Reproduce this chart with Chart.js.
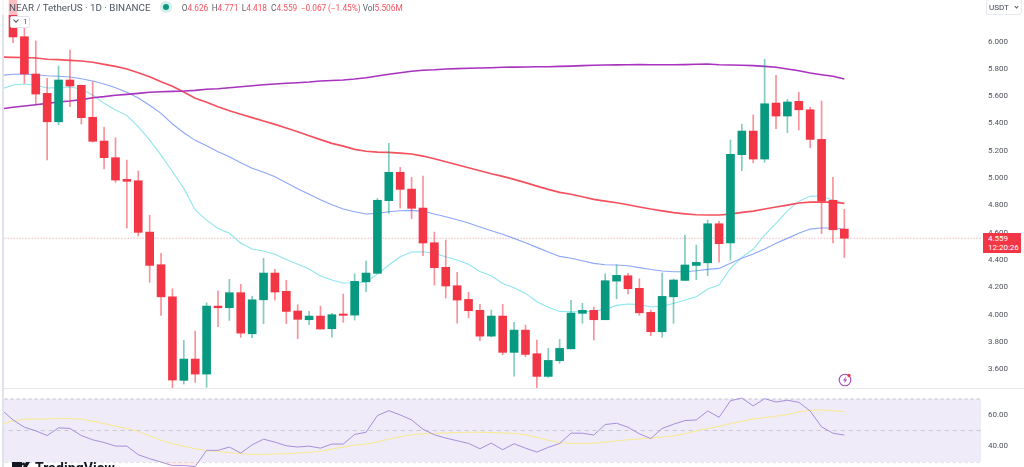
<!DOCTYPE html>
<html><head><meta charset="utf-8">
<script src="https://cdn.jsdelivr.net/npm/chart.js@4"></script>
<style>
html,body{margin:0;padding:0;background:#fff;width:1024px;height:467px;overflow:hidden;font-family:Roboto,sans-serif}
canvas{position:absolute;left:0}
.abs{position:absolute;white-space:nowrap}
.lab{color:#5d606b}.val{color:#f7525f}
.ohlc{top:1px;font-size:8.3px;line-height:14px}
</style></head><body>
<div class="abs" style="left:2px;top:0;width:1.5px;height:467px;background:#e0e3eb"></div>
<canvas id="price" width="1024" height="388" style="top:0"></canvas>
<div class="abs" style="left:2px;top:388px;width:1022px;height:1px;background:#e4e6ec"></div>
<canvas id="rsi" width="1024" height="78" style="top:389px"></canvas>

<div class="abs" style="left:0;top:0;width:400px;height:15px;background:rgba(255,255,255,.68)"></div>
<div class="abs" style="left:9px;top:1px;font-size:9.8px;line-height:14px;color:#4c525e;">NEAR / TetherUS · 1D · BINANCE</div>
<div class="abs" style="left:159.5px;top:1px;width:12px;height:12px;border-radius:50%;background:#d5eee9"></div>
<div class="abs" style="left:162.5px;top:4px;width:6px;height:6px;border-radius:50%;background:#089981"></div>
<div class="abs ohlc" style="left:181.7px"><span class="lab">O</span><span class="val">4.626</span></div>
<div class="abs ohlc" style="left:211.7px"><span class="lab">H</span><span class="val">4.771</span></div>
<div class="abs ohlc" style="left:241.7px"><span class="lab">L</span><span class="val">4.418</span></div>
<div class="abs ohlc" style="left:271px"><span class="lab">C</span><span class="val">4.559</span></div>
<div class="abs ohlc val" style="left:300.7px">−0.067</div>
<div class="abs ohlc val" style="left:328px">(−1.45%)</div>
<div class="abs ohlc" style="left:362.7px"><span class="lab">Vol</span><span class="val">5.506M</span></div>

<div class="abs" style="left:10px;top:16px;width:20px;height:12px;background:#fff;border:1px solid #e0e3eb;border-radius:2px;box-sizing:border-box;font-size:8px;line-height:10px;color:#4c525e"><span style="position:absolute;left:3px;top:1px;width:3px;height:3px;border-right:1px solid #4c525e;border-bottom:1px solid #4c525e;transform:rotate(45deg)"></span><span style="position:absolute;left:12px;top:0">1</span></div>

<div class="abs" style="left:986px;top:-1px;width:36px;height:16px;background:#fff;border:1px solid #e8eaf0;border-radius:2px;box-sizing:border-box;font-size:8px;line-height:15px;color:#3a3f4b"><span style="position:absolute;left:2px;top:0">USDT</span><span style="position:absolute;left:28px;top:5px;width:2px;height:2px;border-right:1px solid #4c525e;border-bottom:1px solid #4c525e;transform:rotate(45deg)"></span></div>

<div class="abs" style="left:983px;top:233px;width:38px;height:20px;background:#f23645;color:#fff;font-size:8px;line-height:9px;padding:1px 0 0 5px;box-sizing:border-box">4.559<br>12:20:26</div>

<svg class="abs" style="left:837px;top:372px" width="17" height="16" viewBox="0 0 17 16"><circle cx="8" cy="8" r="5.8" fill="none" stroke="#ab47bc" stroke-width="1.1"/><path d="M9 4.6 6 8.4h2l-1 3 3.2-4H8.2z" fill="#ab47bc"/><circle cx="12" cy="3.4" r="1.6" fill="#f23645"/></svg>

<svg class="abs" style="left:11px;top:462px" width="20" height="5" viewBox="0 0 20 5"><rect x="1" y="0" width="10" height="5" fill="#131722"/><circle cx="12.5" cy="2" r="1.6" fill="#131722"/><path d="M15 0h4l-3 5h-4z" fill="#131722"/></svg>
<div class="abs" style="left:35px;top:460px;font-size:14px;line-height:17px;font-weight:700;color:#131722;letter-spacing:.1px">TradingView</div>

<script>
const opens=[6.340,6.035,5.762,5.620,5.412,5.718,5.679,5.445,5.271,5.149,4.990,4.980,4.604,4.365,4.130,3.518,3.674,3.564,4.062,4.050,4.160,3.859,4.108,4.304,4.170,4.026,3.962,3.989,3.896,4.004,3.996,4.240,4.302,4.834,5.042,4.919,4.780,4.526,4.346,4.211,4.111,4.031,3.842,3.989,3.723,3.886,3.713,3.547,3.662,3.749,4.009,4.031,3.962,4.245,4.284,4.192,4.016,3.874,4.130,4.250,4.360,4.379,4.665,4.524,5.171,5.344,5.139,5.549,5.454,5.562,5.500,5.283,4.837,4.626];
const closes=[6.033,5.762,5.615,5.412,5.718,5.674,5.442,5.269,5.149,4.985,4.976,4.602,4.360,4.130,3.520,3.674,3.564,4.062,4.050,4.160,3.864,4.108,4.304,4.165,4.023,3.965,3.989,3.894,3.999,3.994,4.243,4.304,4.837,5.042,4.917,4.778,4.524,4.343,4.209,4.106,4.028,3.842,3.989,3.723,3.886,3.708,3.547,3.664,3.752,4.011,4.031,3.962,4.248,4.287,4.189,4.013,3.874,4.133,4.253,4.363,4.382,4.665,4.519,5.174,5.344,5.139,5.544,5.454,5.557,5.500,5.283,4.831,4.621,4.559];
const highs=[6.377,6.099,6.004,5.730,5.820,5.938,5.682,5.705,5.374,5.295,5.132,5.051,4.727,4.448,4.189,3.811,3.879,4.086,4.172,4.258,4.221,4.133,4.412,4.331,4.251,4.072,4.023,4.062,4.009,4.150,4.299,4.392,4.851,5.254,5.078,5.005,5.015,4.604,4.546,4.309,4.163,4.075,4.033,4.075,3.943,3.923,3.813,3.752,3.818,4.104,4.082,4.055,4.299,4.363,4.302,4.262,4.033,4.304,4.260,4.582,4.509,4.692,4.683,5.278,5.396,5.462,5.870,5.752,5.577,5.628,5.518,5.564,5.005,4.771];
const lows=[5.991,5.694,5.542,5.132,5.390,5.522,5.396,5.264,5.066,4.968,4.634,4.575,4.236,3.994,3.455,3.491,3.503,3.467,3.911,3.957,3.833,3.830,3.933,4.106,3.933,3.823,3.925,3.894,3.835,3.943,3.960,4.165,4.302,4.741,4.780,4.702,4.431,4.216,4.121,3.936,3.977,3.808,3.837,3.706,3.549,3.691,3.464,3.540,3.642,3.749,3.936,3.813,3.962,4.116,4.152,3.994,3.845,3.833,3.936,4.250,4.255,4.284,4.385,4.399,5.053,5.112,5.115,5.361,5.332,5.352,5.222,4.592,4.524,4.418];
// moving averages: first value sits one session before the first candle
const maRed=[5.886,5.884,5.883,5.879,5.870,5.867,5.862,5.857,5.848,5.833,5.818,5.799,5.771,5.742,5.705,5.672,5.630,5.584,5.555,5.522,5.493,5.467,5.442,5.418,5.393,5.366,5.339,5.310,5.281,5.254,5.234,5.210,5.196,5.190,5.188,5.183,5.176,5.161,5.141,5.119,5.097,5.075,5.053,5.031,5.012,4.990,4.966,4.941,4.917,4.895,4.881,4.863,4.844,4.831,4.819,4.804,4.788,4.773,4.760,4.746,4.738,4.731,4.729,4.729,4.736,4.749,4.758,4.773,4.788,4.802,4.817,4.824,4.824,4.824,4.815];
const maBlue=[5.752,5.760,5.762,5.757,5.749,5.745,5.740,5.727,5.711,5.689,5.662,5.628,5.586,5.533,5.474,5.396,5.332,5.276,5.237,5.193,5.156,5.112,5.071,5.042,5.009,4.966,4.922,4.881,4.841,4.804,4.773,4.753,4.736,4.741,4.753,4.760,4.763,4.756,4.736,4.716,4.694,4.670,4.641,4.614,4.588,4.558,4.526,4.492,4.458,4.426,4.412,4.394,4.375,4.365,4.363,4.357,4.344,4.330,4.319,4.314,4.314,4.321,4.331,4.338,4.375,4.412,4.443,4.480,4.522,4.558,4.595,4.626,4.634,4.634,4.624];
const maCyan=[5.652,5.681,5.689,5.679,5.659,5.662,5.667,5.652,5.608,5.547,5.498,5.459,5.376,5.278,5.168,5.046,4.924,4.766,4.692,4.631,4.595,4.522,4.480,4.465,4.441,4.404,4.368,4.333,4.282,4.253,4.231,4.233,4.238,4.297,4.363,4.423,4.458,4.460,4.448,4.423,4.399,4.368,4.316,4.284,4.228,4.196,4.155,4.094,4.053,4.023,4.020,4.020,4.026,4.038,4.067,4.077,4.073,4.055,4.062,4.081,4.106,4.130,4.187,4.216,4.338,4.419,4.480,4.582,4.668,4.760,4.829,4.868,4.866,4.839,4.815];
const maPurple=[5.507,5.518,5.527,5.537,5.547,5.557,5.564,5.574,5.588,5.596,5.606,5.613,5.620,5.628,5.632,5.635,5.637,5.642,5.650,5.654,5.661,5.669,5.676,5.683,5.689,5.694,5.698,5.703,5.711,5.714,5.718,5.725,5.735,5.747,5.760,5.771,5.782,5.789,5.793,5.799,5.801,5.804,5.806,5.808,5.811,5.812,5.813,5.815,5.815,5.818,5.820,5.823,5.826,5.828,5.829,5.830,5.831,5.830,5.830,5.830,5.831,5.833,5.835,5.830,5.828,5.826,5.823,5.818,5.811,5.799,5.786,5.769,5.757,5.745,5.725];
const rsiLine=[63.1,56.7,52.1,49.8,46.8,51.7,51.3,46.8,44.1,42.4,40.1,40.1,34.6,32.1,30.0,27.7,27.7,27.1,37.4,37.4,39.5,35.7,40.9,44.5,42.6,40.3,39.5,40.1,38.8,41.4,41.4,47.5,48.9,59.5,62.6,59.9,56.7,50.8,47.3,45.2,43.5,41.8,38.4,42.0,37.8,41.6,38.8,36.3,39.3,41.8,48.3,48.3,47.1,53.8,54.6,52.1,47.9,44.9,51.3,54.0,56.3,56.7,62.4,58.4,68.9,70.6,65.6,70.2,68.1,69.2,67.9,62.4,52.3,48.3,47.1];
const rsiAvg=[54.0,56.1,57.2,57.2,57.4,57.6,57.6,57.2,55.9,54.4,52.7,51.3,49.4,46.6,43.9,41.6,39.9,38.4,37.4,36.7,35.9,35.3,34.8,34.8,35.1,35.3,35.7,36.1,36.9,38.2,39.5,40.7,41.4,42.8,44.5,46.0,47.3,47.9,48.1,48.5,48.7,48.9,48.9,48.7,48.5,48.1,47.3,45.6,43.7,42.4,41.8,41.8,42.0,42.6,43.5,44.1,44.7,45.2,45.8,46.6,47.9,49.8,51.3,52.7,54.4,55.9,57.2,58.2,59.1,60.1,61.8,62.8,63.1,62.6,62.0];
const priceTicks=[6.0,5.8,5.6,5.4,5.2,5.0,4.8,4.6,4.4,4.2,4.0,3.8,3.6];
const rsiTicks=[60,40];
const lastPrice=[4.559,4.559];
const rsiUpper=[70,70], rsiMiddle=[50,50], rsiLower=[30,30];

const UP='#089981', DOWN='#f23645';
const XMIN=-0.79, XMAX=85.0;
const edge=[XMIN-1,XMAX+1];
const mapts=(a)=>a.map((y,i)=>({x:i-1,y}));
const edges=(a)=>a.map((y,i)=>({x:edge[i],y}));
const isUp=opens.map((o,i)=>closes[i]>=o);
const tickFont={family:'Roboto,sans-serif',size:8};
const commonX={type:'linear',display:false,offset:false,min:XMIN,max:XMAX};
function yAxis(min,max,ticks,dec){
  return {position:'right',min,max,border:{display:false},grid:{display:false,drawTicks:false},
    ticks:{padding:7,color:'#50535e',font:tickFont,autoSkip:false,callback:v=>v.toFixed(dec)},
    afterBuildTicks:s=>{s.ticks=ticks.map(value=>({value}));},
    afterFit:s=>{s.width=43;s.paddingTop=0;s.paddingBottom=0;}};
}
const line=(data,color,width,order,extra)=>Object.assign({type:'line',data,borderColor:color,borderWidth:width,pointRadius:0,tension:0,order,fill:false},extra||{});
const base={responsive:false,animation:false,events:[],layout:{padding:{left:4,right:0,top:0,bottom:0}},
  plugins:{legend:{display:false},tooltip:{enabled:false}}};

new Chart(document.getElementById('price'),{
  data:{datasets:[
    {type:'bar',label:'body',order:0,grouped:false,barThickness:8,borderWidth:0,
      backgroundColor:isUp.map(u=>u?UP:DOWN),
      data:opens.map((o,i)=>({x:i,y:[o,closes[i]]}))},
    {type:'bar',label:'wick',order:1,grouped:false,barThickness:1,borderWidth:0,
      backgroundColor:isUp.map(u=>u?'rgba(8,153,129,.5)':'rgba(242,54,69,.55)'),
      data:highs.map((h,i)=>({x:i,y:[lows[i],h]}))},
    line(mapts(maPurple),'#a832bd',1.6,2),
    line(mapts(maRed),'#f4505e',1.7,3),
    line(mapts(maBlue),'#8ca6fa',1.1,4),
    line(mapts(maCyan),'#8ee6ee',1.1,5),
    line(edges(lastPrice),'rgba(242,54,69,.55)',1,6,{borderDash:[1,2]})
  ]},
  options:Object.assign({},base,{scales:{x:commonX,y:yAxis(3.462,6.304,priceTicks,3)}})
});

new Chart(document.getElementById('rsi'),{
  data:{datasets:[
    line(edges(rsiUpper),'#bfc0c9',1,4,{borderDash:[3,3],fill:{target:'+1'},backgroundColor:'#efebf8'}),
    line(edges(rsiLower),'#bfc0c9',1,5,{borderDash:[3,3]}),
    line(edges(rsiMiddle),'#c6c7cf',1,3,{borderDash:[4,4]}),
    line(mapts(rsiAvg),'#fbe98f',1,2),
    line(mapts(rsiLine),'#a78fdc',1,1,{fill:{target:{value:30},below:'rgba(242,54,69,.1)',above:'rgba(0,0,0,0)'}})
  ]},
  options:Object.assign({},base,{scales:{x:commonX,y:yAxis(26.83,76.35,rsiTicks,2)}})
});
</script>
</body></html>
